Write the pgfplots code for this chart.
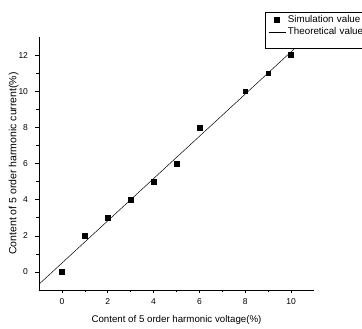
\documentclass[border=0pt]{standalone}
\usepackage{pgfplots}
\pgfplotsset{compat=1.18}
\usepackage{fontspec}
\setmainfont{Liberation Sans}
\begin{document}
\begin{tikzpicture}
\begin{axis}[
  scale only axis,
  width=275pt, height=253pt,
  xmin=-1, xmax=11, ymin=-1, ymax=13,
  axis lines*=left,
  axis line style={line width=0.6pt},
  xtick={0,2,...,10}, ytick={0,2,...,12},
  minor tick num=1,
  tick align=outside,
  major tick length=3.5pt, minor tick length=2.5pt,
  tick style={line width=0.5pt, black},
  ticklabel style={font=\fontsize{8.5}{10}\selectfont},
  xticklabel style={yshift=-2pt},
  yticklabel style={xshift=-4pt},
  /pgf/number format/assume math mode=true,
  xlabel={Content of 5 order harmonic voltage(\%)},
  ylabel={Content of 5 order harmonic current(\%)},
  xlabel style={font=\fontsize{9.7}{11}\selectfont, yshift=-4pt},
  ylabel style={font=\fontsize{10.5}{12}\selectfont, yshift=-7pt},
  clip=true,
  legend style={at={(0.822,1.099)}, anchor=north west, draw=black, line width=0.6pt,
    font=\fontsize{9.8}{11}\selectfont, inner xsep=3pt, inner ysep=1pt,
    row sep=0pt, text width=78pt},
  legend cell align=left,
]
\addplot[only marks, mark=square*, mark size=2.4pt, black] coordinates {
(0,0) (1,2) (2,3) (3,4) (4,5) (5,6) (6,8) (8,10) (9,11) (10,12)};
\addlegendentry{Simulation value}
\addplot[black, line width=0.5pt] coordinates {(-1,-0.68) (10.7,13.0)};
\addlegendentry{Theoretical value}
\addlegendimage{empty legend}
\addlegendentry{\rule[-6pt]{0pt}{9pt}}
\end{axis}
\pgfresetboundingbox
\path (-39pt,-39pt) rectangle (323pt,290pt);
\end{tikzpicture}
\end{document}
